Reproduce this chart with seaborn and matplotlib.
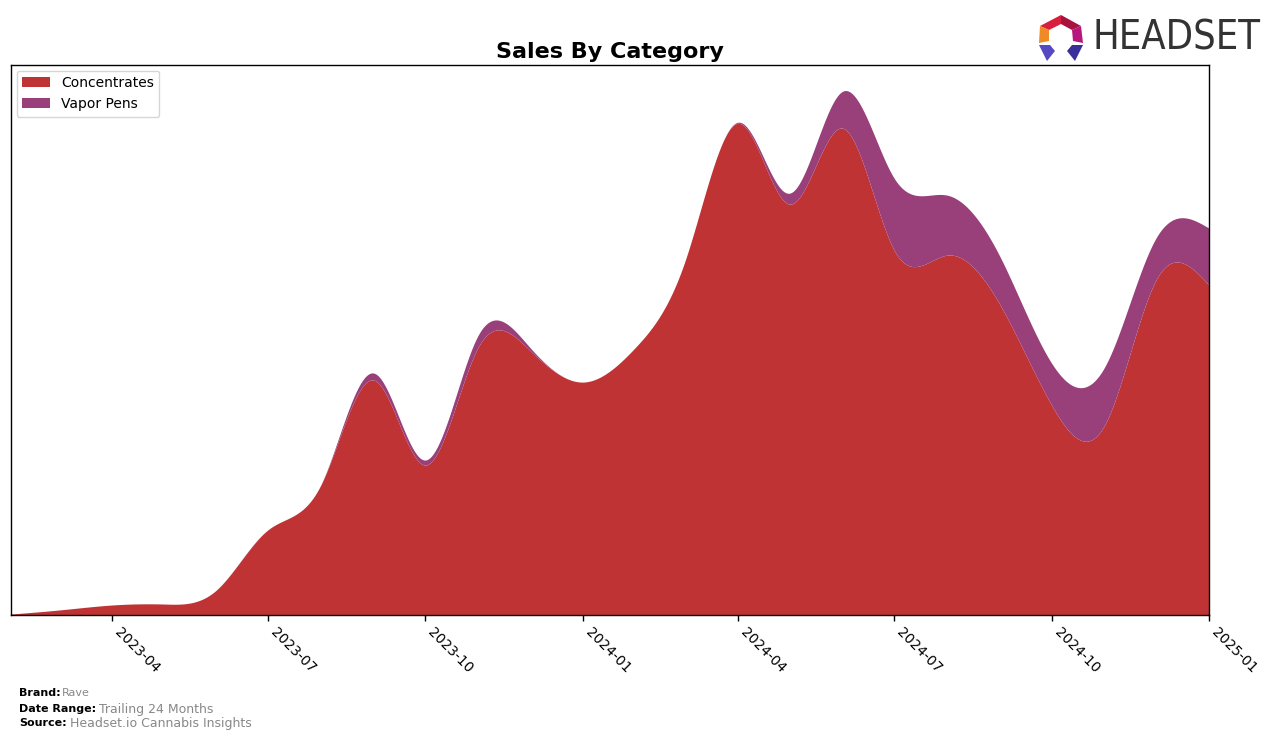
import numpy as np
import pandas as pd
import matplotlib
matplotlib.use("Agg")
import matplotlib.pyplot as plt
import matplotlib.dates as mdates
from matplotlib.patches import Polygon
import seaborn as sns

# ---- data (monthly, arbitrary sales units) ----
months = pd.date_range("2023-02-01", "2025-01-01", freq="MS")
concentrates = [1, 5, 10, 11, 25, 85, 130, 235, 150, 268, 265, 233,
                268, 355, 492, 411, 487, 365, 360, 310, 210, 190, 335, 330]
vapor_pens = [0, 0, 0, 0, 0, 0, 0, 7, 5, 12, 3, 0,
              0, 0, 1, 11, 37, 72, 60, 48, 42, 58, 42, 57]
categories = ["Concentrates", "Vapor Pens"]
colors = ["#C03334", "#993F7A"]

tick_dates = pd.to_datetime(["2023-04-01", "2023-07-01", "2023-10-01", "2024-01-01",
                             "2024-04-01", "2024-07-01", "2024-10-01", "2025-01-01"])


def natural_spline(x, y, xn):
    x = np.asarray(x, float)
    y = np.asarray(y, float)
    n = len(x)
    h = np.diff(x)
    A = np.zeros((n, n))
    b = np.zeros(n)
    A[0, 0] = 1
    A[-1, -1] = 1
    for i in range(1, n - 1):
        A[i, i - 1] = h[i - 1]
        A[i, i] = 2 * (h[i - 1] + h[i])
        A[i, i + 1] = h[i]
        b[i] = 3 * ((y[i + 1] - y[i]) / h[i] - (y[i] - y[i - 1]) / h[i - 1])
    c = np.linalg.solve(A, b)
    bb = (np.diff(y) / h) - h * (2 * c[:-1] + c[1:]) / 3
    d = np.diff(c) / (3 * h)
    idx = np.clip(np.searchsorted(x, xn) - 1, 0, n - 2)
    dx = xn - x[idx]
    return y[idx] + bb[idx] * dx + c[idx] * dx ** 2 + d[idx] * dx ** 3


sns.set_theme(style="white")
plt.rcParams["font.family"] = ["DejaVu Sans"]
plt.rcParams["text.color"] = "black"
plt.rcParams["xtick.color"] = "black"
plt.rcParams["axes.labelcolor"] = "black"

fig = plt.figure(figsize=(12.76, 7.4), dpi=100)
ax = fig.add_axes([11 / 1276, 125 / 740, (1209 - 11) / 1276, (615 - 65) / 740])

xnum = mdates.date2num(months)
xs = np.linspace(xnum[0], xnum[-1], 1200)
c_s = np.clip(natural_spline(xnum, concentrates, xs), 0, None)
v_s = np.clip(natural_spline(xnum, vapor_pens, xs), 0, None)

ax.stackplot(mdates.num2date(xs), c_s, v_s, labels=categories, colors=colors, linewidth=0)

ax.set_xlim(months[0], months[-1])
total_max = max(np.array(concentrates) + np.array(vapor_pens))
ax.set_ylim(0, total_max * 1.05)
ax.set_yticks([])
ax.set_xticks(tick_dates)
ax.xaxis.set_major_formatter(mdates.DateFormatter("%Y-%m"))
ax.tick_params(axis="x", bottom=True, length=4, width=1, color="black",
               labelcolor="black", labelsize=10, pad=3)
plt.setp(ax.get_xticklabels(), rotation=-45, ha="left")
for s in ax.spines.values():
    s.set_color("black")
    s.set_linewidth(1)

ax.set_title("Sales By Category", fontsize=16, fontweight="bold", pad=5, color="black")
leg = ax.legend(loc="upper left", fontsize=10, frameon=True, borderaxespad=0.4)
leg.get_frame().set_edgecolor("#cccccc")
for t in leg.get_texts():
    t.set_color("black")

# footer
fig.text(19 / 1276, 1 - 693 / 740, "Brand:", fontsize=8, fontweight="bold", va="center")
fig.text(62 / 1276, 1 - 693 / 740, "Rave", fontsize=8, color="#888888", va="center")
fig.text(19 / 1276, 1 - 709 / 740, "Date Range:", fontsize=8, fontweight="bold", va="center")
fig.text(99 / 1276, 1 - 709 / 740, "Trailing 24 Months", fontsize=9, color="#888888", va="center")
fig.text(19 / 1276, 1 - 723 / 740, "Source:", fontsize=8, fontweight="bold", va="center")
fig.text(70 / 1276, 1 - 723 / 740, "Headset.io Cannabis Insights", fontsize=9, color="#888888", va="center")

# logo
lax = fig.add_axes([1036 / 1276, 1 - 62 / 740, 50 / 1276, 48 / 740])
lax.set_xlim(0, 50)
lax.set_ylim(0, 48)
lax.axis("off")
polys = [
    ([(4, 36), (25, 47), (25, 38), (13, 32)], "#D81F3C"),
    ([(25, 47), (45, 36), (36, 32), (25, 38)], "#A8123F"),
    ([(4, 36), (13, 32), (13, 21), (3, 19)], "#F08A24"),
    ([(45, 36), (47, 19), (37, 21), (36, 32)], "#B5177E"),
    ([(3, 17), (14, 17), (19, 11), (11, 1)], "#5548C2"),
    ([(47, 17), (36, 17), (31, 11), (39, 1)], "#3A2E9A"),
]
for pts, col in polys:
    lax.add_patch(Polygon(pts, closed=True, color=col, lw=0))
fig.text(1092 / 1276, 1 - 39 / 740, "HEADSET", fontsize=28.5, color="#333333",
         va="center", ha="left", family=["DejaVu Sans"], fontstretch="condensed")

fig.savefig("out.png", dpi=100)
